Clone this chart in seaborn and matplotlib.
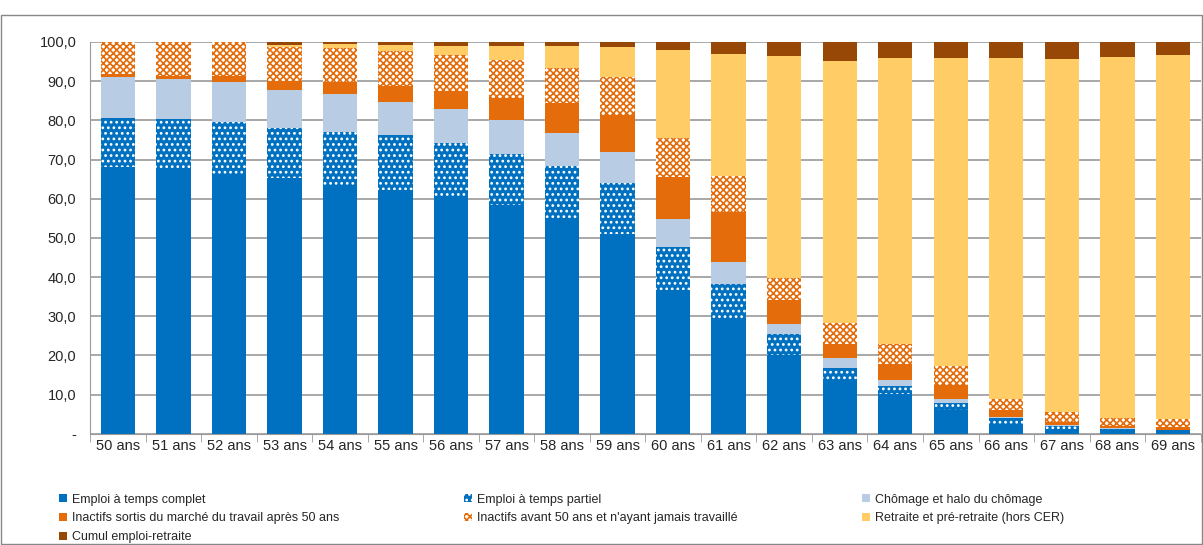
import numpy as np
import pandas as pd
import matplotlib
matplotlib.use("Agg")
import matplotlib.pyplot as plt
import matplotlib.patches as mpatches
import seaborn as sns

sns.set_style("white")
plt.rcParams['font.family'] = ['Liberation Sans', 'DejaVu Sans']
plt.rcParams['hatch.linewidth'] = 1.2

ages = [f"{a} ans" for a in range(50, 70)]
# cumulated tops of each segment (%)
top_complet = [68.1, 67.3, 66.4, 65.2, 63.3, 62.2, 60.5, 58.3, 54.9, 51.1,
               36.6, 29.0, 20.0, 13.6, 10.2, 6.0, 2.6, 1.3, 0.9, 0.4]
top_partiel = [80.7, 80.4, 79.6, 78.0, 77.0, 76.2, 74.1, 71.3, 68.3, 64.1,
               47.6, 38.2, 25.4, 16.9, 12.1, 7.9, 4.1, 2.1, 1.3, 0.9]
top_chomage = [91.1, 90.5, 89.7, 87.7, 86.7, 84.8, 82.8, 80.1, 76.7, 71.9,
               54.9, 43.9, 28.1, 19.3, 13.8, 9.0, 4.3, 2.3, 1.5, 1.0]
top_sortis = [91.8, 91.4, 91.3, 90.1, 89.9, 88.8, 87.6, 85.7, 84.4, 81.4,
              65.6, 56.6, 34.2, 23.0, 17.9, 12.5, 6.1, 2.9, 2.1, 1.7]
top_jamais = [100.0, 100.0, 100.0, 98.8, 98.5, 97.7, 96.8, 95.5, 93.3, 91.1,
              75.6, 65.8, 39.8, 28.4, 23.0, 17.4, 9.0, 5.5, 4.1, 3.7]
top_retraite = [100.0, 100.0, 100.0, 99.3, 99.5, 99.1, 99.0, 99.0, 99.0, 98.7,
                98.0, 96.9, 96.3, 95.2, 95.8, 95.8, 95.8, 95.6, 96.1, 96.8]
top_cumul = [100.0] * 20

labels = ["Emploi à temps complet", "Emploi à temps partiel", "Chômage et halo du chômage",
          "Inactifs sortis du marché du travail après 50 ans",
          "Inactifs avant 50 ans et n'ayant jamais travaillé",
          "Retraite et pré-retraite (hors CER)", "Cumul emploi-retraite"]
tops = [top_complet, top_partiel, top_chomage, top_sortis, top_jamais, top_retraite, top_cumul]
# (facecolor, hatch, hatch colour)
styles = [("#0070C0", None, "#0070C0"),
          ("#0070C0", "...", "white"),
          ("#B8CCE4", None, "#B8CCE4"),
          ("#E46C0A", None, "#E46C0A"),
          ("white", "xxxxx", "#E46C0A"),
          ("#FFCC66", None, "#FFCC66"),
          ("#974706", None, "#974706")]

fig = plt.figure(figsize=(12.03, 5.45), dpi=100)
ax = fig.add_axes([0.075, 0.204, 0.923, 0.719])

# draw from the highest cumulative level down so each lower segment covers the rest
for i in range(len(tops) - 1, -1, -1):
    fc, h, hc = styles[i]
    df = pd.DataFrame({"age": ages, "val": tops[i]})
    sns.barplot(data=df, x="age", y="val", ax=ax, color=fc, saturation=1,
                width=0.62, hatch=h, edgecolor=hc, linewidth=0)

ax.set_ylim(0, 100)
ax.set_xlim(-0.5, 19.5)
ax.set_yticks(np.arange(0, 101, 10))
ax.set_yticklabels(["-"] + [f"{v:.1f}".replace(".", ",") for v in range(10, 101, 10)])
ax.set_xlabel("")
ax.set_ylabel("")
ax.yaxis.grid(True, color="#9a9a9a", linewidth=1.2)
ax.set_axisbelow(True)
for s in ["top", "right"]:
    ax.spines[s].set_visible(False)
ax.spines["left"].set_color("#9a9a9a")
ax.spines["bottom"].set_color("#9a9a9a")
ax.tick_params(axis="y", labelsize=10.5, length=0, pad=10)
ax.tick_params(axis="x", labelsize=10.5, bottom=True, length=5, color="#9a9a9a", pad=4)
ax.set_xticks(np.arange(-0.5, 20, 1), minor=True)
ax.tick_params(axis="x", which="major", length=0)
ax.tick_params(axis="x", which="minor", bottom=True, length=6, color="#9a9a9a")

handles = []
for (fc, h, hc), lab in zip(styles, labels):
    handles.append(mpatches.Patch(facecolor=fc, hatch=h, edgecolor=hc, linewidth=0, label=lab))
# row-major order for a 3-column legend
order = [0, 3, 6, 1, 4, 2, 5]
fig.legend([handles[k] for k in order], [labels[k] for k in order], ncol=3,
           loc="upper left", bbox_to_anchor=(0.04, 0.115), frameon=False,
           fontsize=9, handlelength=0.6, handleheight=0.6, columnspacing=10,
           labelspacing=0.55, handletextpad=0.4)

fig.patches.append(mpatches.Rectangle((0.001, 0.001), 0.998, 0.972, transform=fig.transFigure,
                                      fill=False, edgecolor="#888888", linewidth=1))
fig.savefig("out.png", dpi=100)
